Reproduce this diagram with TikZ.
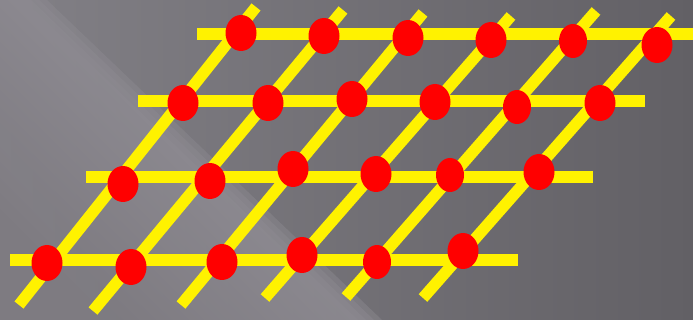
\documentclass[tikz,border=0pt]{standalone}
\usepackage{tikz}
\usetikzlibrary{shapes.geometric}
\definecolor{bglight}{HTML}{9E9BA3}
\definecolor{bgmid}{HTML}{7E7B81}
\definecolor{bgedge}{HTML}{828086}
\definecolor{bgdark}{HTML}{626065}
\begin{document}
\begin{tikzpicture}[
  x=1pt, y=-1pt,
  rail/.style={line width=11.5pt, yellow},
  spot/.style={ellipse, fill=red, minimum width=31pt, minimum height=36pt, inner sep=0pt},
  slim/.style={spot, minimum width=28pt, minimum height=34pt},
]
  \useasboundingbox (0,0) rectangle (693,320);
  % background
  \shade[left color=bgedge, right color=bgdark] (0,0) rectangle (693,320);
  \foreach \d in {-12,-4,4,12}
    \shade[top color=bglight, middle color=bglight, bottom color=bgmid, shading angle=-45, opacity=0.4]
      (0,0) -- (35+\d,0) -- (370+\d,320) -- (0,320) -- cycle;
  % ends of the slanted rails
  \coordinate (s1) at (19,305);  \coordinate (n1) at (256,7);
  \coordinate (s2) at (93,311);  \coordinate (n2) at (343,10);
  \coordinate (s3) at (181,305); \coordinate (n3) at (423,13);
  \coordinate (s4) at (265,298); \coordinate (n4) at (511,16);
  \coordinate (s5) at (346,297); \coordinate (n5) at (596,11);
  \coordinate (s6) at (423,298); \coordinate (n6) at (671,16);
  % ends of the level rails
  \coordinate (w1) at (197,34);  \coordinate (e1) at (693,34);
  \coordinate (w2) at (138,101); \coordinate (e2) at (645,101);
  \coordinate (w3) at (86,177);  \coordinate (e3) at (593,177);
  \coordinate (w4) at (10,260);  \coordinate (e4) at (518,260);
  \foreach \j in {1,...,6} {\draw[rail] (s\j) -- (n\j);}
  \foreach \i in {1,...,4} {\draw[rail] (w\i) -- (e\i);}
  % spots
  \node[spot] (p11) at (241,33) {};
  \node[spot] (p12) at (324,36) {};
  \node[spot] (p13) at (408,38) {};
  \node[spot] (p14) at (491,40) {};
  \node[slim] (p15) at (573,41) {};
  \node[spot] (p16) at (657,45) {};
  \node[spot] (p21) at (183,103) {};
  \node[spot] (p22) at (268,103) {};
  \node[spot] (p23) at (352,99) {};
  \node[spot] (p24) at (435,102) {};
  \node[slim] (p25) at (517,107) {};
  \node[spot] (p26) at (600,103) {};
  \node[spot] (p31) at (123,184) {};
  \node[spot] (p32) at (210,181) {};
  \node[spot] (p33) at (293,169) {};
  \node[spot] (p34) at (376,174) {};
  \node[slim] (p35) at (450,175) {};
  \node[spot] (p36) at (539,172) {};
  \node[spot] (p41) at (47,263) {};
  \node[spot] (p42) at (131,267) {};
  \node[spot] (p43) at (222,262) {};
  \node[spot] (p44) at (302,255) {};
  \node[slim] (p45) at (377,262) {};
  \node[spot] (p46) at (463,251) {};
\end{tikzpicture}
\end{document}
